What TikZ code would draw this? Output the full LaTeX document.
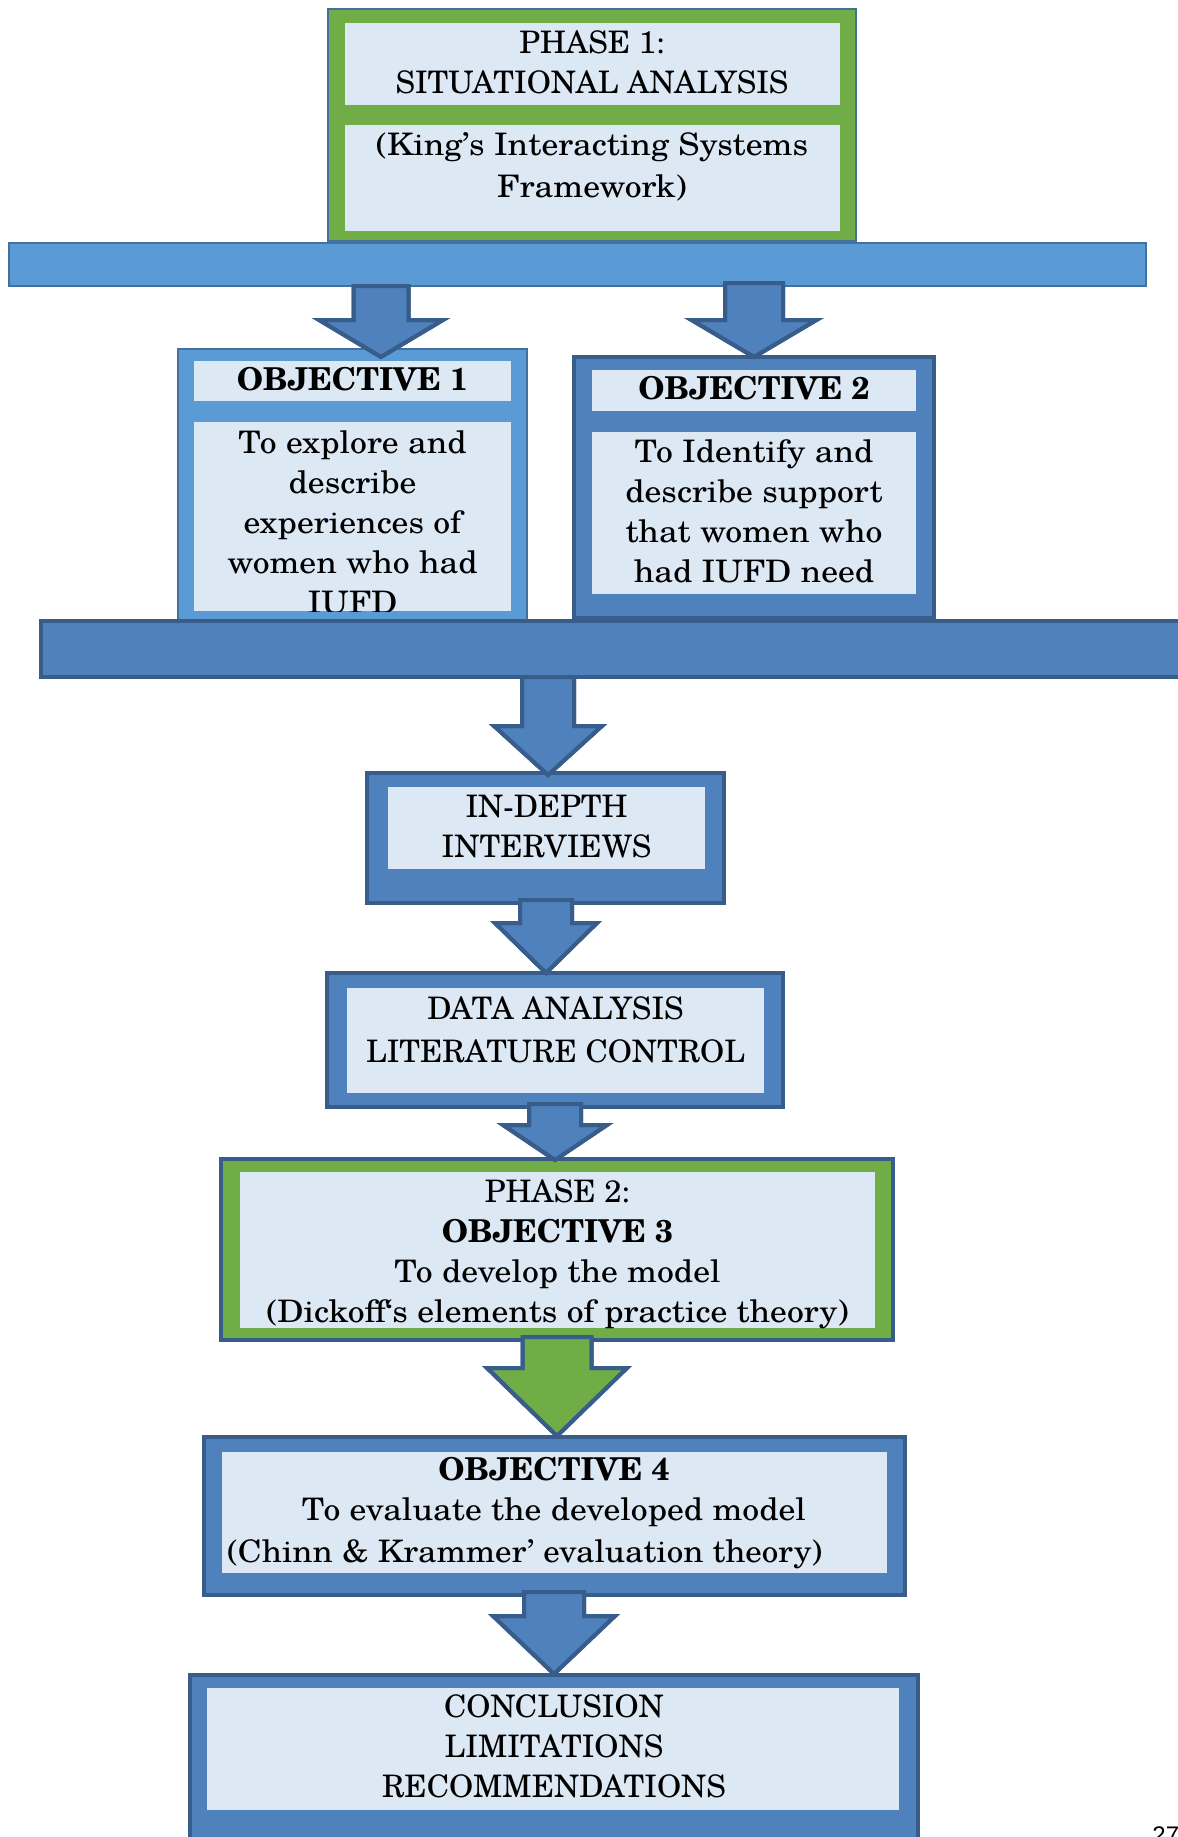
\documentclass[tikz,border=0pt]{standalone}
\usepackage{fontspec}
\setmainfont{TeX Gyre Schola}
\newfontfamily\widefont{TeX Gyre Schola}[FakeStretch=1.085]
\newfontfamily\midfont{TeX Gyre Schola}[FakeStretch=1.065]
\newfontfamily\pagefont{Liberation Sans}
\usetikzlibrary{calc}

\definecolor{paleblue}{HTML}{DDE8F5}
\definecolor{skyblue}{HTML}{5B9BD5}
\definecolor{skyedge}{HTML}{41719C}
\definecolor{steelblue}{HTML}{4F81BD}
\definecolor{steeledge}{HTML}{385D8A}
\definecolor{leafgreen}{HTML}{70AD47}

% rectangle node given by its two corners (x1,y1) (x2,y2)
\newcommand\rectnode[6][]{%
  \node[#1, minimum width={(#5-#3)*0.5pt}, minimum height={(#6-#4)*0.5pt}]
    (#2) at ({(#3+#5)/2},{(#4+#6)/2}) {};}

% centred block of lines, baseline on the first line
\newcommand\stack[1]{\begin{tabular}[t]{@{}c@{}}#1\end{tabular}}
\newcommand\heading[1]{{\fontsize{15.75}{20}\selectfont\bfseries #1}}

% block arrow: coordinate #2 gives the level of the shaft top, coordinate #3 the tip,
% #4 shaft half width, #5 head half width, #6 head length
\newcommand\blockarrow[6]{%
  \fill[#1] ($(#3 |- #2)+(-#4,0)$) -- ($(#3)+(-#4,-#6)$) -- ($(#3)+(-#5,-#6)$)
    -- (#3) -- ($(#3)+(#5,-#6)$) -- ($(#3)+(#4,-#6)$) -- ($(#3 |- #2)+(#4,0)$) -- cycle;
  \draw[#1, fill=none] ($(#3 |- #2)+(-#4,0)$) -- ($(#3)+(-#4,-#6)$) -- ($(#3)+(-#5,-#6)$)
    -- (#3) -- ($(#3)+(#5,-#6)$) -- ($(#3)+(#4,-#6)$) -- ($(#3 |- #2)+(#4,0)$);}

\begin{document}
\begin{tikzpicture}[x=0.5pt, y=-0.5pt,
  frame/.style={rectangle, inner sep=0pt, outer sep=0pt},
  panel/.style={frame, fill=paleblue},
  lightframe/.style={frame, fill=skyblue, draw=skyedge, line width=1pt},
  darkframe/.style={frame, fill=steelblue, draw=steeledge, line width=2pt},
  greenthin/.style={frame, fill=leafgreen, draw=skyedge, line width=1pt},
  greenthick/.style={frame, fill=leafgreen, draw=steeledge, line width=2pt},
  darkarrow/.style={fill=steelblue, draw=steeledge, line width=2pt},
  greenarrow/.style={fill=leafgreen, draw=steeledge, line width=2pt},
  txt/.style={anchor=base, inner sep=0pt, outer sep=0pt,
    font=\fontsize{15.5}{20}\selectfont},
]
\useasboundingbox (0,0) rectangle (1178,1837);
\clip (0,0) rectangle (1178,1837);

% ---------- phase 1 ----------
\rectnode[greenthin]{phaseone}{328}{9}{856}{241}
\rectnode[panel]{phaseonetop}{345}{23}{840}{105}
\rectnode[panel]{phaseonebot}{345}{125}{840}{231}
\node[txt] (phaseonetitle) at (592,53) {\stack{PHASE 1:\\SITUATIONAL ANALYSIS}};
\node[txt, font=\fontsize{15.5}{21}\selectfont\widefont] (phaseoneframe) at (592,155)
  {\stack{(King’s Interacting Systems\\Framework)}};

\rectnode[lightframe]{barone}{9}{243}{1146}{286}

% ---------- objectives 1 and 2 ----------
\rectnode[lightframe]{objone}{178}{349}{527}{621}
\rectnode[panel]{objonehead}{194}{361}{511}{401}
\rectnode[panel]{objonebody}{194}{422}{511}{611}
\node[txt] (objonetitle) at (352.5,390) {\heading{OBJECTIVE 1}};
\begin{scope}
  \clip (objonebody.north west) rectangle (objonebody.south east);
  \node[txt, font=\fontsize{15.5}{20}\selectfont\widefont] (objonetext) at (352.5,453)
    {\stack{To explore and\\describe\\experiences of\\women who had\\IUFD}};
\end{scope}

\rectnode[darkframe]{objtwo}{574}{357}{934}{618}
\rectnode[panel]{objtwohead}{592}{370}{916}{411}
\rectnode[panel]{objtwobody}{592}{432}{916}{594}
\node[txt] (objtwotitle) at (754,399) {\heading{OBJECTIVE 2}};
\node[txt, font=\fontsize{15.5}{20}\selectfont\widefont] (objtwotext) at (754,462)
  {\stack{To Identify and\\describe support\\that women who\\had IUFD need}};

% arrow end points
\coordinate (srcone) at (barone.south);
\coordinate (tipone) at ($(objone.north)+(28.5,8)$);
\coordinate (srctwo) at ($(barone.south)+(0,-3)$);
\coordinate (tiptwo) at (objtwo.north);
\blockarrow{darkarrow}{srcone}{tipone}{27.5}{62}{37}
\blockarrow{darkarrow}{srctwo}{tiptwo}{29}{62.5}{37}

\rectnode[darkframe]{bartwo}{41}{621}{1200}{677}

% ---------- interviews ----------
\rectnode[darkframe]{interviews}{367}{773}{724}{903}
\rectnode[panel]{interviewspanel}{388}{787}{705}{869}
\node[txt] (interviewstext) at (546.5,817) {\stack{IN-DEPTH\\INTERVIEWS}};
\coordinate (srcthree) at (bartwo.south);
\coordinate (tipthree) at ($(interviews.north)+(2.5,2)$);
\blockarrow{darkarrow}{srcthree}{tipthree}{26}{54}{49}

% ---------- data analysis ----------
\rectnode[darkframe]{analysis}{327}{973}{783}{1107}
\rectnode[panel]{analysispanel}{347}{988}{764}{1093}
\node[txt, font=\fontsize{15.5}{21.5}\selectfont] (analysistext) at (555.5,1019)
  {\stack{DATA ANALYSIS\\LITERATURE CONTROL}};
\coordinate (srcfour) at ($(interviews.south)+(0,-3)$);
\coordinate (tipfour) at ($(analysis.north)+(-9,0)$);
\blockarrow{darkarrow}{srcfour}{tipfour}{26}{51}{50}

% ---------- phase 2 ----------
\rectnode[greenthick]{phasetwo}{221}{1159}{893}{1340}
\rectnode[panel]{phasetwopanel}{240}{1172}{875}{1328}
\begin{scope}
  \clip (phasetwopanel.north west) rectangle (phasetwopanel.south east);
  \node[txt] (phasetwotext) at (557.5,1202)
    {\stack{PHASE 2:\\\heading{OBJECTIVE 3}\\{\widefont To develop the model}\\
      {\widefont (Dickoff‘s elements of practice theory)}}};
\end{scope}
\coordinate (srcfive) at ($(analysis.south)+(0,-3)$);
\coordinate (tipfive) at ($(phasetwo.north)+(-2,1)$);
\blockarrow{darkarrow}{srcfive}{tipfive}{26}{52}{35}

% ---------- objective 4 ----------
\rectnode[darkframe]{objfour}{204}{1437}{905}{1595}
\rectnode[panel]{objfourpanel}{222}{1452}{887}{1573}
\node[txt] (objfourtext) at (554,1480)
  {\stack{\heading{OBJECTIVE 4}\\{\widefont To evaluate the developed model}}};
\node[txt, anchor=base west, font=\fontsize{15.5}{20}\selectfont\midfont]
  (objfourtheory) at (227,1562) {(Chinn \& Krammer’ evaluation theory)};
\coordinate (srcsix) at ($(phasetwo.south)+(0,-3)$);
\coordinate (tipsix) at ($(objfour.north)+(2.5,-1)$);
\blockarrow{greenarrow}{srcsix}{tipsix}{34.5}{70}{68}

% ---------- conclusion ----------
\rectnode[darkframe]{closing}{190}{1675}{918}{1860}
\rectnode[panel]{closingpanel}{207}{1688}{899}{1810}
\node[txt] (closingtext) at (554,1717)
  {\stack{CONCLUSION\\LIMITATIONS\\RECOMMENDATIONS}};
\coordinate (srcseven) at ($(objfour.south)+(0,-3)$);
\coordinate (tipseven) at ($(closing.north)+(0,-1)$);
\blockarrow{darkarrow}{srcseven}{tipseven}{30}{61}{58}

% page number
\node[anchor=base west, inner sep=0pt, font=\pagefont\fontsize{12}{14}\selectfont]
  (pagenumber) at (1152,1843) {27};
\end{tikzpicture}
\end{document}
